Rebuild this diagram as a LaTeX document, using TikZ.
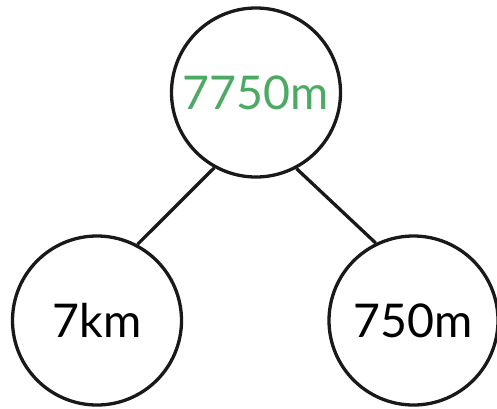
\documentclass[tikz,border=0pt]{standalone}
\usepackage{fontspec}
\setmainfont{Lato}
\definecolor{numgreen}{RGB}{76,170,100}
\begin{document}
\begin{tikzpicture}[x=1pt,y=1pt,
  bubble/.style={circle,draw=black!90,line width=3.3pt,minimum size=169pt,inner sep=0pt,
    font=\fontsize{46.5}{50}\selectfont},
  link/.style={draw=black!90,line width=3.3pt}]
\useasboundingbox (0,0) rectangle (497,408);
\node[bubble,text=numgreen] (top) at (256,315.5) {7750m};
\node[bubble] (left) at (97,87.5) {7km};
\node[bubble] (right) at (413.5,87.5) {750m};
\draw[link] (top.241.5) -- (left.62.5);
\draw[link] (top.298.5) -- (right.116);
\end{tikzpicture}
\end{document}
